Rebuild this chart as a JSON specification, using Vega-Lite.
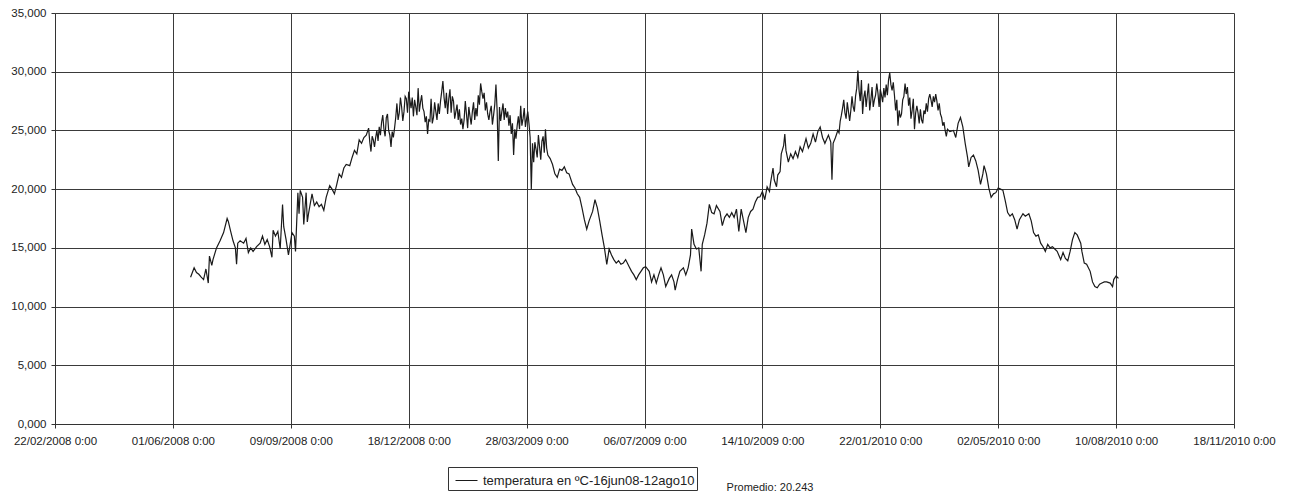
{
"$schema": "https://vega.github.io/schema/vega-lite/v6.json",
"width": 1179,
"height": 411,
"autosize": {"type": "none"},
"padding": {"left": 55, "top": 13, "right": 57, "bottom": 71},
"background": "white",
"config": {"view": {"stroke": null}, "font": "Liberation Sans"},
"data": {"values": [
{"fecha":"2008-06-16","temperatura":12.5},{"fecha":"2008-06-19","temperatura":13.3},{"fecha":"2008-06-21","temperatura":12.9},{"fecha":"2008-06-23","temperatura":12.75},{"fecha":"2008-06-25","temperatura":12.5},{"fecha":"2008-06-27","temperatura":12.3},{"fecha":"2008-06-29","temperatura":13.2},
{"fecha":"2008-07-01","temperatura":12.0},{"fecha":"2008-07-02","temperatura":14.3},{"fecha":"2008-07-04","temperatura":13.5},{"fecha":"2008-07-05","temperatura":14.0},{"fecha":"2008-07-08","temperatura":15.0},{"fecha":"2008-07-11","temperatura":15.6},{"fecha":"2008-07-14","temperatura":16.3},{"fecha":"2008-07-17","temperatura":17.5},{"fecha":"2008-07-18","temperatura":17.25},{"fecha":"2008-07-20","temperatura":16.4},{"fecha":"2008-07-22","temperatura":15.6},{"fecha":"2008-07-24","temperatura":15.0},{"fecha":"2008-07-25","temperatura":13.6},{"fecha":"2008-07-26","temperatura":15.4},{"fecha":"2008-07-28","temperatura":15.6},{"fecha":"2008-07-31","temperatura":15.4},
{"fecha":"2008-08-02","temperatura":15.8},{"fecha":"2008-08-04","temperatura":14.6},{"fecha":"2008-08-06","temperatura":15.0},{"fecha":"2008-08-08","temperatura":14.7},{"fecha":"2008-08-11","temperatura":15.1},{"fecha":"2008-08-14","temperatura":15.4},{"fecha":"2008-08-16","temperatura":16.0},{"fecha":"2008-08-18","temperatura":15.3},{"fecha":"2008-08-20","temperatura":15.7},{"fecha":"2008-08-22","temperatura":15.1},{"fecha":"2008-08-24","temperatura":14.2},{"fecha":"2008-08-25","temperatura":16.5},{"fecha":"2008-08-27","temperatura":16.0},{"fecha":"2008-08-29","temperatura":16.4},{"fecha":"2008-08-31","temperatura":14.9},
{"fecha":"2008-09-02","temperatura":18.7},{"fecha":"2008-09-03","temperatura":16.8},{"fecha":"2008-09-05","temperatura":15.7},{"fecha":"2008-09-07","temperatura":14.4},{"fecha":"2008-09-08","temperatura":15.0},{"fecha":"2008-09-10","temperatura":16.3},{"fecha":"2008-09-12","temperatura":16.0},{"fecha":"2008-09-13","temperatura":14.7},{"fecha":"2008-09-15","temperatura":19.7},{"fecha":"2008-09-16","temperatura":17.9},{"fecha":"2008-09-17","temperatura":19.9},{"fecha":"2008-09-19","temperatura":19.3},{"fecha":"2008-09-20","temperatura":17.0},{"fecha":"2008-09-22","temperatura":19.7},{"fecha":"2008-09-23","temperatura":17.2},{"fecha":"2008-09-24","temperatura":17.9},{"fecha":"2008-09-27","temperatura":19.6},{"fecha":"2008-09-29","temperatura":18.6},
{"fecha":"2008-10-01","temperatura":18.9},{"fecha":"2008-10-03","temperatura":18.5},{"fecha":"2008-10-05","temperatura":18.7},{"fecha":"2008-10-07","temperatura":18.2},{"fecha":"2008-10-09","temperatura":19.3},{"fecha":"2008-10-12","temperatura":20.3},{"fecha":"2008-10-14","temperatura":20.0},{"fecha":"2008-10-16","temperatura":19.6},{"fecha":"2008-10-18","temperatura":20.4},{"fecha":"2008-10-20","temperatura":21.3},{"fecha":"2008-10-22","temperatura":21.0},{"fecha":"2008-10-24","temperatura":21.8},{"fecha":"2008-10-26","temperatura":22.1},{"fecha":"2008-10-29","temperatura":22.0},{"fecha":"2008-10-31","temperatura":22.7},
{"fecha":"2008-11-02","temperatura":23.3},{"fecha":"2008-11-04","temperatura":23.0},{"fecha":"2008-11-06","temperatura":24.2},{"fecha":"2008-11-08","temperatura":23.9},{"fecha":"2008-11-10","temperatura":24.4},{"fecha":"2008-11-12","temperatura":24.6},{"fecha":"2008-11-14","temperatura":25.2},{"fecha":"2008-11-15","temperatura":24.0},{"fecha":"2008-11-16","temperatura":23.2},{"fecha":"2008-11-17","temperatura":24.5},{"fecha":"2008-11-18","temperatura":24.2},{"fecha":"2008-11-19","temperatura":23.6},{"fecha":"2008-11-20","temperatura":24.4},{"fecha":"2008-11-21","temperatura":25.0},{"fecha":"2008-11-22","temperatura":24.1},{"fecha":"2008-11-23","temperatura":25.3},{"fecha":"2008-11-24","temperatura":24.6},{"fecha":"2008-11-25","temperatura":25.7},{"fecha":"2008-11-26","temperatura":26.3},{"fecha":"2008-11-27","temperatura":25.1},{"fecha":"2008-11-28","temperatura":24.5},{"fecha":"2008-11-29","temperatura":26.1},{"fecha":"2008-11-30","temperatura":26.4},
{"fecha":"2008-12-01","temperatura":25.0},{"fecha":"2008-12-02","temperatura":24.6},{"fecha":"2008-12-03","temperatura":23.6},{"fecha":"2008-12-04","temperatura":24.9},{"fecha":"2008-12-05","temperatura":24.4},{"fecha":"2008-12-06","temperatura":25.2},{"fecha":"2008-12-07","temperatura":26.1},{"fecha":"2008-12-08","temperatura":27.3},{"fecha":"2008-12-09","temperatura":25.9},{"fecha":"2008-12-10","temperatura":26.5},{"fecha":"2008-12-11","temperatura":27.8},{"fecha":"2008-12-12","temperatura":27.0},{"fecha":"2008-12-13","temperatura":25.8},{"fecha":"2008-12-14","temperatura":26.6},{"fecha":"2008-12-15","temperatura":27.9},{"fecha":"2008-12-16","temperatura":27.7},{"fecha":"2008-12-17","temperatura":26.5},{"fecha":"2008-12-18","temperatura":28.3},{"fecha":"2008-12-19","temperatura":27.6},{"fecha":"2008-12-20","temperatura":26.9},{"fecha":"2008-12-21","temperatura":27.8},{"fecha":"2008-12-22","temperatura":26.2},{"fecha":"2008-12-23","temperatura":27.6},{"fecha":"2008-12-24","temperatura":27.0},{"fecha":"2008-12-25","temperatura":26.3},{"fecha":"2008-12-26","temperatura":28.6},{"fecha":"2008-12-27","temperatura":26.6},{"fecha":"2008-12-28","temperatura":27.4},{"fecha":"2008-12-29","temperatura":28.0},{"fecha":"2008-12-30","temperatura":26.9},{"fecha":"2008-12-31","temperatura":26.6},
{"fecha":"2009-01-01","temperatura":25.7},{"fecha":"2009-01-02","temperatura":26.2},{"fecha":"2009-01-03","temperatura":24.7},{"fecha":"2009-01-04","temperatura":25.9},{"fecha":"2009-01-05","temperatura":25.8},{"fecha":"2009-01-06","temperatura":27.7},{"fecha":"2009-01-07","temperatura":25.6},{"fecha":"2009-01-08","temperatura":26.1},{"fecha":"2009-01-09","temperatura":27.4},{"fecha":"2009-01-10","temperatura":26.6},{"fecha":"2009-01-11","temperatura":25.9},{"fecha":"2009-01-12","temperatura":27.3},{"fecha":"2009-01-13","temperatura":26.4},{"fecha":"2009-01-14","temperatura":27.5},{"fecha":"2009-01-15","temperatura":28.3},{"fecha":"2009-01-16","temperatura":29.2},{"fecha":"2009-01-17","temperatura":27.8},{"fecha":"2009-01-18","temperatura":26.9},{"fecha":"2009-01-19","temperatura":28.2},{"fecha":"2009-01-20","temperatura":26.4},{"fecha":"2009-01-21","temperatura":27.7},{"fecha":"2009-01-22","temperatura":28.5},{"fecha":"2009-01-23","temperatura":26.5},{"fecha":"2009-01-24","temperatura":27.9},{"fecha":"2009-01-25","temperatura":27.5},{"fecha":"2009-01-26","temperatura":26.0},{"fecha":"2009-01-27","temperatura":26.6},{"fecha":"2009-01-28","temperatura":27.2},{"fecha":"2009-01-29","temperatura":25.9},{"fecha":"2009-01-30","temperatura":26.8},{"fecha":"2009-01-31","temperatura":25.5},
{"fecha":"2009-02-01","temperatura":26.0},{"fecha":"2009-02-02","temperatura":25.1},{"fecha":"2009-02-03","temperatura":25.9},{"fecha":"2009-02-04","temperatura":27.5},{"fecha":"2009-02-05","temperatura":26.4},{"fecha":"2009-02-06","temperatura":25.2},{"fecha":"2009-02-07","temperatura":27.0},{"fecha":"2009-02-08","temperatura":26.2},{"fecha":"2009-02-09","temperatura":25.5},{"fecha":"2009-02-10","temperatura":26.6},{"fecha":"2009-02-11","temperatura":27.4},{"fecha":"2009-02-12","temperatura":25.9},{"fecha":"2009-02-13","temperatura":26.9},{"fecha":"2009-02-14","temperatura":26.2},{"fecha":"2009-02-15","temperatura":28.0},{"fecha":"2009-02-16","temperatura":27.2},{"fecha":"2009-02-17","temperatura":29.0},{"fecha":"2009-02-18","temperatura":28.3},{"fecha":"2009-02-19","temperatura":27.7},{"fecha":"2009-02-20","temperatura":28.2},{"fecha":"2009-02-21","temperatura":26.7},{"fecha":"2009-02-22","temperatura":27.4},{"fecha":"2009-02-23","temperatura":26.4},{"fecha":"2009-02-24","temperatura":25.9},{"fecha":"2009-02-25","temperatura":26.6},{"fecha":"2009-02-26","temperatura":27.1},{"fecha":"2009-02-27","temperatura":25.5},{"fecha":"2009-02-28","temperatura":26.3},
{"fecha":"2009-03-01","temperatura":27.2},{"fecha":"2009-03-02","temperatura":28.9},{"fecha":"2009-03-03","temperatura":26.7},{"fecha":"2009-03-04","temperatura":22.4},{"fecha":"2009-03-05","temperatura":27.0},{"fecha":"2009-03-06","temperatura":25.8},{"fecha":"2009-03-07","temperatura":26.6},{"fecha":"2009-03-08","temperatura":27.3},{"fecha":"2009-03-09","temperatura":25.9},{"fecha":"2009-03-10","temperatura":26.9},{"fecha":"2009-03-11","temperatura":26.1},{"fecha":"2009-03-12","temperatura":26.6},{"fecha":"2009-03-13","temperatura":25.4},{"fecha":"2009-03-14","temperatura":26.3},{"fecha":"2009-03-15","temperatura":24.7},{"fecha":"2009-03-16","temperatura":25.6},{"fecha":"2009-03-17","temperatura":22.9},{"fecha":"2009-03-18","temperatura":25.1},{"fecha":"2009-03-19","temperatura":24.3},{"fecha":"2009-03-20","temperatura":25.4},{"fecha":"2009-03-21","temperatura":26.2},{"fecha":"2009-03-22","temperatura":25.1},{"fecha":"2009-03-23","temperatura":27.1},{"fecha":"2009-03-24","temperatura":25.4},{"fecha":"2009-03-25","temperatura":26.0},{"fecha":"2009-03-26","temperatura":26.9},{"fecha":"2009-03-27","temperatura":25.3},{"fecha":"2009-03-28","temperatura":26.0},{"fecha":"2009-03-29","temperatura":26.6},{"fecha":"2009-03-30","temperatura":25.6},{"fecha":"2009-03-31","temperatura":24.4},
{"fecha":"2009-04-01","temperatura":20.0},{"fecha":"2009-04-02","temperatura":23.9},{"fecha":"2009-04-03","temperatura":22.3},{"fecha":"2009-04-04","temperatura":24.0},{"fecha":"2009-04-05","temperatura":23.4},{"fecha":"2009-04-06","temperatura":22.7},{"fecha":"2009-04-07","temperatura":24.6},{"fecha":"2009-04-08","temperatura":23.6},{"fecha":"2009-04-09","temperatura":22.5},{"fecha":"2009-04-10","temperatura":24.1},{"fecha":"2009-04-11","temperatura":24.5},{"fecha":"2009-04-12","temperatura":23.1},{"fecha":"2009-04-13","temperatura":25.1},{"fecha":"2009-04-14","temperatura":23.5},{"fecha":"2009-04-15","temperatura":22.9},{"fecha":"2009-04-17","temperatura":22.6},{"fecha":"2009-04-19","temperatura":22.1},{"fecha":"2009-04-21","temperatura":21.3},{"fecha":"2009-04-23","temperatura":21.0},{"fecha":"2009-04-25","temperatura":21.7},{"fecha":"2009-04-27","temperatura":21.6},{"fecha":"2009-04-29","temperatura":21.9},
{"fecha":"2009-05-01","temperatura":21.4},{"fecha":"2009-05-03","temperatura":21.3},{"fecha":"2009-05-06","temperatura":20.4},{"fecha":"2009-05-08","temperatura":20.1},{"fecha":"2009-05-10","temperatura":19.6},{"fecha":"2009-05-12","temperatura":19.3},{"fecha":"2009-05-14","temperatura":18.4},{"fecha":"2009-05-16","temperatura":17.4},{"fecha":"2009-05-18","temperatura":16.6},{"fecha":"2009-05-20","temperatura":17.3},{"fecha":"2009-05-23","temperatura":18.1},{"fecha":"2009-05-25","temperatura":19.1},{"fecha":"2009-05-27","temperatura":18.4},{"fecha":"2009-05-29","temperatura":17.3},{"fecha":"2009-05-31","temperatura":16.1},
{"fecha":"2009-06-02","temperatura":15.0},{"fecha":"2009-06-04","temperatura":13.6},{"fecha":"2009-06-06","temperatura":14.9},{"fecha":"2009-06-08","temperatura":14.4},{"fecha":"2009-06-10","temperatura":14.0},{"fecha":"2009-06-12","temperatura":13.7},{"fecha":"2009-06-14","temperatura":13.9},{"fecha":"2009-06-16","temperatura":13.6},{"fecha":"2009-06-18","temperatura":13.7},{"fecha":"2009-06-20","temperatura":14.0},{"fecha":"2009-06-23","temperatura":13.4},{"fecha":"2009-06-25","temperatura":13.0},{"fecha":"2009-06-27","temperatura":12.7},{"fecha":"2009-06-29","temperatura":12.3},
{"fecha":"2009-07-01","temperatura":12.7},{"fecha":"2009-07-03","temperatura":13.0},{"fecha":"2009-07-05","temperatura":13.3},{"fecha":"2009-07-07","temperatura":13.4},{"fecha":"2009-07-10","temperatura":13.0},{"fecha":"2009-07-12","temperatura":12.1},{"fecha":"2009-07-14","temperatura":12.7},{"fecha":"2009-07-16","temperatura":12.0},{"fecha":"2009-07-18","temperatura":12.7},{"fecha":"2009-07-20","temperatura":13.3},{"fecha":"2009-07-22","temperatura":12.7},{"fecha":"2009-07-24","temperatura":11.7},{"fecha":"2009-07-27","temperatura":12.4},{"fecha":"2009-07-29","temperatura":12.7},{"fecha":"2009-07-31","temperatura":12.1},
{"fecha":"2009-08-01","temperatura":11.4},{"fecha":"2009-08-03","temperatura":12.3},{"fecha":"2009-08-05","temperatura":13.0},{"fecha":"2009-08-08","temperatura":13.3},{"fecha":"2009-08-10","temperatura":12.7},{"fecha":"2009-08-12","temperatura":13.3},{"fecha":"2009-08-14","temperatura":14.4},{"fecha":"2009-08-15","temperatura":16.6},{"fecha":"2009-08-17","temperatura":15.3},{"fecha":"2009-08-19","temperatura":14.9},{"fecha":"2009-08-21","temperatura":15.0},{"fecha":"2009-08-23","temperatura":13.0},{"fecha":"2009-08-24","temperatura":15.3},{"fecha":"2009-08-26","temperatura":16.1},{"fecha":"2009-08-28","temperatura":17.1},{"fecha":"2009-08-30","temperatura":18.7},
{"fecha":"2009-09-01","temperatura":18.0},{"fecha":"2009-09-03","temperatura":17.9},{"fecha":"2009-09-05","temperatura":18.6},{"fecha":"2009-09-08","temperatura":18.1},{"fecha":"2009-09-10","temperatura":16.9},{"fecha":"2009-09-12","temperatura":17.6},{"fecha":"2009-09-14","temperatura":17.9},{"fecha":"2009-09-16","temperatura":17.6},{"fecha":"2009-09-18","temperatura":18.0},{"fecha":"2009-09-20","temperatura":17.6},{"fecha":"2009-09-22","temperatura":18.3},{"fecha":"2009-09-24","temperatura":16.4},{"fecha":"2009-09-26","temperatura":18.3},{"fecha":"2009-09-28","temperatura":17.3},{"fecha":"2009-09-30","temperatura":16.3},
{"fecha":"2009-10-02","temperatura":17.6},{"fecha":"2009-10-04","temperatura":18.1},{"fecha":"2009-10-06","temperatura":18.3},{"fecha":"2009-10-08","temperatura":18.9},{"fecha":"2009-10-10","temperatura":19.3},{"fecha":"2009-10-12","temperatura":19.35},{"fecha":"2009-10-14","temperatura":19.8},{"fecha":"2009-10-16","temperatura":19.1},{"fecha":"2009-10-18","temperatura":20.2},{"fecha":"2009-10-20","temperatura":19.8},{"fecha":"2009-10-21","temperatura":20.6},{"fecha":"2009-10-23","temperatura":21.8},{"fecha":"2009-10-24","temperatura":20.8},{"fecha":"2009-10-26","temperatura":20.2},{"fecha":"2009-10-27","temperatura":21.2},{"fecha":"2009-10-29","temperatura":21.5},{"fecha":"2009-10-30","temperatura":23.0},
{"fecha":"2009-11-01","temperatura":23.7},{"fecha":"2009-11-02","temperatura":24.7},{"fecha":"2009-11-03","temperatura":23.3},{"fecha":"2009-11-05","temperatura":22.3},{"fecha":"2009-11-07","temperatura":23.0},{"fecha":"2009-11-09","temperatura":22.6},{"fecha":"2009-11-11","temperatura":23.2},{"fecha":"2009-11-13","temperatura":22.7},{"fecha":"2009-11-15","temperatura":23.6},{"fecha":"2009-11-17","temperatura":23.2},{"fecha":"2009-11-20","temperatura":24.3},{"fecha":"2009-11-22","temperatura":23.5},{"fecha":"2009-11-24","temperatura":23.9},{"fecha":"2009-11-26","temperatura":24.7},{"fecha":"2009-11-28","temperatura":24.0},{"fecha":"2009-11-30","temperatura":24.9},
{"fecha":"2009-12-02","temperatura":25.3},{"fecha":"2009-12-04","temperatura":24.4},{"fecha":"2009-12-06","temperatura":23.9},{"fecha":"2009-12-09","temperatura":24.6},{"fecha":"2009-12-11","temperatura":24.0},{"fecha":"2009-12-12","temperatura":20.8},{"fecha":"2009-12-13","temperatura":23.9},{"fecha":"2009-12-15","temperatura":24.4},{"fecha":"2009-12-17","temperatura":25.0},{"fecha":"2009-12-18","temperatura":24.8},{"fecha":"2009-12-19","temperatura":25.8},{"fecha":"2009-12-20","temperatura":26.3},{"fecha":"2009-12-21","temperatura":26.9},{"fecha":"2009-12-22","temperatura":27.6},{"fecha":"2009-12-23","temperatura":26.5},{"fecha":"2009-12-24","temperatura":26.0},{"fecha":"2009-12-25","temperatura":27.4},{"fecha":"2009-12-26","temperatura":26.6},{"fecha":"2009-12-27","temperatura":25.8},{"fecha":"2009-12-28","temperatura":26.7},{"fecha":"2009-12-29","temperatura":27.9},{"fecha":"2009-12-30","temperatura":27.0},{"fecha":"2009-12-31","temperatura":26.6},
{"fecha":"2010-01-01","temperatura":27.9},{"fecha":"2010-01-02","temperatura":28.6},{"fecha":"2010-01-03","temperatura":30.1},{"fecha":"2010-01-04","temperatura":28.4},{"fecha":"2010-01-05","temperatura":27.5},{"fecha":"2010-01-06","temperatura":29.3},{"fecha":"2010-01-07","temperatura":26.4},{"fecha":"2010-01-08","temperatura":27.8},{"fecha":"2010-01-09","temperatura":28.4},{"fecha":"2010-01-10","temperatura":27.0},{"fecha":"2010-01-11","temperatura":28.0},{"fecha":"2010-01-12","temperatura":29.0},{"fecha":"2010-01-13","temperatura":26.7},{"fecha":"2010-01-14","temperatura":27.6},{"fecha":"2010-01-15","temperatura":28.7},{"fecha":"2010-01-16","temperatura":27.0},{"fecha":"2010-01-17","temperatura":27.6},{"fecha":"2010-01-18","temperatura":28.0},{"fecha":"2010-01-19","temperatura":29.0},{"fecha":"2010-01-20","temperatura":28.2},{"fecha":"2010-01-21","temperatura":27.0},{"fecha":"2010-01-22","temperatura":28.5},{"fecha":"2010-01-23","temperatura":28.0},{"fecha":"2010-01-24","temperatura":27.4},{"fecha":"2010-01-25","temperatura":28.6},{"fecha":"2010-01-26","temperatura":27.8},{"fecha":"2010-01-27","temperatura":28.9},{"fecha":"2010-01-28","temperatura":28.0},{"fecha":"2010-01-29","temperatura":29.3},{"fecha":"2010-01-30","temperatura":29.9},{"fecha":"2010-01-31","temperatura":28.9},
{"fecha":"2010-02-01","temperatura":28.4},{"fecha":"2010-02-02","temperatura":29.1},{"fecha":"2010-02-03","temperatura":28.0},{"fecha":"2010-02-04","temperatura":26.7},{"fecha":"2010-02-05","temperatura":27.6},{"fecha":"2010-02-06","temperatura":25.4},{"fecha":"2010-02-07","temperatura":26.7},{"fecha":"2010-02-08","temperatura":26.1},{"fecha":"2010-02-09","temperatura":26.4},{"fecha":"2010-02-10","temperatura":27.6},{"fecha":"2010-02-11","temperatura":27.9},{"fecha":"2010-02-12","temperatura":29.0},{"fecha":"2010-02-13","temperatura":28.1},{"fecha":"2010-02-14","temperatura":28.7},{"fecha":"2010-02-15","temperatura":27.1},{"fecha":"2010-02-16","temperatura":27.8},{"fecha":"2010-02-17","temperatura":26.0},{"fecha":"2010-02-18","temperatura":26.7},{"fecha":"2010-02-19","temperatura":27.7},{"fecha":"2010-02-20","temperatura":25.1},{"fecha":"2010-02-21","temperatura":26.5},{"fecha":"2010-02-22","temperatura":27.1},{"fecha":"2010-02-23","temperatura":26.5},{"fecha":"2010-02-24","temperatura":25.6},{"fecha":"2010-02-25","temperatura":26.8},{"fecha":"2010-02-26","temperatura":25.9},{"fecha":"2010-02-27","temperatura":25.6},{"fecha":"2010-02-28","temperatura":26.7},
{"fecha":"2010-03-01","temperatura":26.4},{"fecha":"2010-03-02","temperatura":27.3},{"fecha":"2010-03-03","temperatura":26.6},{"fecha":"2010-03-04","temperatura":27.7},{"fecha":"2010-03-05","temperatura":28.1},{"fecha":"2010-03-06","temperatura":27.6},{"fecha":"2010-03-07","temperatura":27.0},{"fecha":"2010-03-08","temperatura":27.9},{"fecha":"2010-03-09","temperatura":27.4},{"fecha":"2010-03-10","temperatura":28.1},{"fecha":"2010-03-11","temperatura":27.5},{"fecha":"2010-03-12","temperatura":26.7},{"fecha":"2010-03-13","temperatura":27.3},{"fecha":"2010-03-14","temperatura":26.4},{"fecha":"2010-03-15","temperatura":26.1},{"fecha":"2010-03-16","temperatura":25.4},{"fecha":"2010-03-17","temperatura":25.7},{"fecha":"2010-03-18","temperatura":25.0},{"fecha":"2010-03-19","temperatura":24.5},{"fecha":"2010-03-20","temperatura":25.1},{"fecha":"2010-03-22","temperatura":24.9},{"fecha":"2010-03-25","temperatura":25.0},{"fecha":"2010-03-27","temperatura":24.4},{"fecha":"2010-03-29","temperatura":25.6},{"fecha":"2010-03-31","temperatura":26.1},
{"fecha":"2010-04-02","temperatura":25.3},{"fecha":"2010-04-04","temperatura":23.9},{"fecha":"2010-04-06","temperatura":22.7},{"fecha":"2010-04-07","temperatura":21.9},{"fecha":"2010-04-09","temperatura":22.7},{"fecha":"2010-04-11","temperatura":22.9},{"fecha":"2010-04-13","temperatura":22.4},{"fecha":"2010-04-15","temperatura":21.6},{"fecha":"2010-04-17","temperatura":20.4},{"fecha":"2010-04-19","temperatura":21.3},{"fecha":"2010-04-20","temperatura":22.0},{"fecha":"2010-04-22","temperatura":21.3},{"fecha":"2010-04-24","temperatura":20.1},{"fecha":"2010-04-26","temperatura":19.3},{"fecha":"2010-04-28","temperatura":19.6},{"fecha":"2010-04-30","temperatura":19.7},
{"fecha":"2010-05-02","temperatura":20.1},{"fecha":"2010-05-04","temperatura":20.0},{"fecha":"2010-05-06","temperatura":19.9},{"fecha":"2010-05-08","temperatura":19.0},{"fecha":"2010-05-10","temperatura":18.0},{"fecha":"2010-05-12","temperatura":17.7},{"fecha":"2010-05-14","temperatura":17.9},{"fecha":"2010-05-16","temperatura":17.4},{"fecha":"2010-05-18","temperatura":16.6},{"fecha":"2010-05-20","temperatura":17.4},{"fecha":"2010-05-23","temperatura":17.9},{"fecha":"2010-05-25","temperatura":17.7},{"fecha":"2010-05-28","temperatura":17.9},{"fecha":"2010-05-30","temperatura":17.3},
{"fecha":"2010-06-01","temperatura":16.3},{"fecha":"2010-06-03","temperatura":16.0},{"fecha":"2010-06-05","temperatura":16.1},{"fecha":"2010-06-07","temperatura":15.4},{"fecha":"2010-06-09","temperatura":15.1},{"fecha":"2010-06-11","temperatura":14.7},{"fecha":"2010-06-13","temperatura":15.3},{"fecha":"2010-06-15","temperatura":15.0},{"fecha":"2010-06-17","temperatura":15.1},{"fecha":"2010-06-19","temperatura":14.9},{"fecha":"2010-06-21","temperatura":14.7},{"fecha":"2010-06-24","temperatura":14.0},{"fecha":"2010-06-26","temperatura":14.6},{"fecha":"2010-06-28","temperatura":14.1},{"fecha":"2010-06-30","temperatura":13.9},
{"fecha":"2010-07-02","temperatura":14.7},{"fecha":"2010-07-04","temperatura":15.7},{"fecha":"2010-07-06","temperatura":16.3},{"fecha":"2010-07-08","temperatura":16.1},{"fecha":"2010-07-11","temperatura":15.4},{"fecha":"2010-07-12","temperatura":14.7},{"fecha":"2010-07-14","temperatura":13.7},{"fecha":"2010-07-16","temperatura":13.6},{"fecha":"2010-07-19","temperatura":13.0},{"fecha":"2010-07-21","temperatura":12.1},{"fecha":"2010-07-23","temperatura":11.7},{"fecha":"2010-07-25","temperatura":11.6},{"fecha":"2010-07-27","temperatura":11.9},{"fecha":"2010-07-29","temperatura":12.0},{"fecha":"2010-07-31","temperatura":12.1},
{"fecha":"2010-08-02","temperatura":12.1},{"fecha":"2010-08-05","temperatura":12.0},{"fecha":"2010-08-07","temperatura":11.7},{"fecha":"2010-08-08","temperatura":12.3},{"fecha":"2010-08-10","temperatura":12.6},{"fecha":"2010-08-12","temperatura":12.4}
]},
"mark": {"type": "line", "strokeWidth": 1.2, "interpolate": "linear"},
"encoding": {
"x": {"field": "fecha", "type": "temporal",
"scale": {"type": "utc", "domain": [{"year": 2008, "month": 2, "date": 22, "utc": true}, {"year": 2010, "month": 11, "date": 18, "utc": true}]},
"axis": {"title": "Promedio: 20.243",
"titleX": 714.5, "titleY": 63.5, "titleAnchor": "middle", "titleAlign": "center", "titleBaseline": "middle", "titleAngle": 0,
"titleFontSize": 11, "titleFontWeight": "normal", "titleFont": "Liberation Sans", "titleColor": "#222",
"values": [{"year": 2008, "month": 2, "date": 22, "utc": true}, {"year": 2008, "month": 6, "date": 1, "utc": true}, {"year": 2008, "month": 9, "date": 9, "utc": true}, {"year": 2008, "month": 12, "date": 18, "utc": true}, {"year": 2009, "month": 3, "date": 28, "utc": true}, {"year": 2009, "month": 7, "date": 6, "utc": true}, {"year": 2009, "month": 10, "date": 14, "utc": true}, {"year": 2010, "month": 1, "date": 22, "utc": true}, {"year": 2010, "month": 5, "date": 2, "utc": true}, {"year": 2010, "month": 8, "date": 10, "utc": true}, {"year": 2010, "month": 11, "date": 18, "utc": true}],
"labelExpr": "utcFormat(datum.value, '%d/%m/%Y') + ' 0:00'",
"grid": true, "gridColor": "#3a3a3a", "gridWidth": 1, "gridOpacity": 1,
"domainColor": "#333", "tickColor": "#333", "tickSize": 4,
"labelFontSize": 11.5, "labelFont": "Liberation Sans", "labelColor": "#222", "labelPadding": 7,
"labelOverlap": false, "labelFlush": false}},
"y": {"field": "temperatura", "type": "quantitative",
"scale": {"domain": [0, 35], "nice": false, "zero": true},
"axis": {"title": null, "values": [0, 5, 10, 15, 20, 25, 30, 35],
"labelExpr": "replace(format(datum.value, '.3f'), '.', ',')",
"grid": true, "gridColor": "#3a3a3a", "gridWidth": 1, "gridOpacity": 1,
"domainColor": "#333", "tickColor": "#333", "tickSize": 4,
"labelFontSize": 11.5, "labelFont": "Liberation Sans", "labelColor": "#222", "labelPadding": 5}},
"color": {"datum": "temperatura en ºC-16jun08-12ago10", "type": "nominal",
"scale": {"range": ["#1a1a1a"]},
"legend": {"orient": "none", "legendX": 393, "legendY": 454, "title": null,
"symbolType": "stroke", "symbolSize": 484, "symbolStrokeWidth": 1, "symbolOffset": 5,
"labelFontSize": 13, "labelFont": "Liberation Sans", "labelColor": "#222", "labelLimit": 0,
"strokeColor": "#333", "fillColor": "white", "padding": 2, "labelOffset": 5}}
}
}
